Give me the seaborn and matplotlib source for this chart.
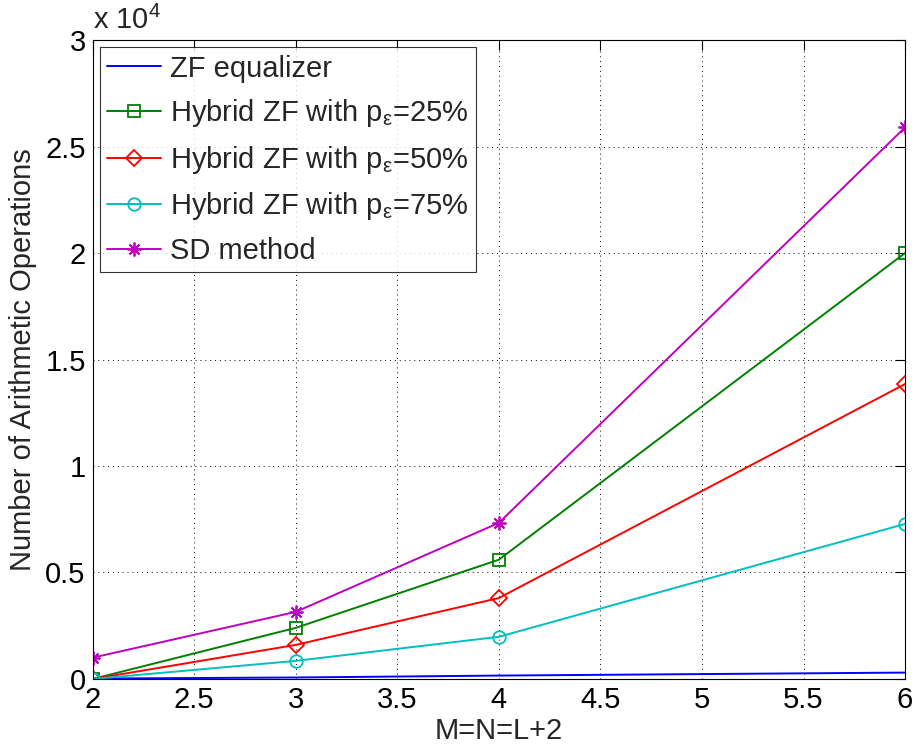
import matplotlib
matplotlib.use("Agg")
import matplotlib.pyplot as plt
import seaborn as sns
import pandas as pd
from matplotlib.ticker import FuncFormatter, MultipleLocator

x_vals = [2, 3, 4, 6]
zf = [20, 70, 160, 300]
hyb25 = [0, 2400, 5600, 20000]
hyb50 = [0, 1600, 3800, 13850]
hyb75 = [0, 850, 1980, 7280]
sd = [1000, 3150, 7330, 25900]

labels = ["ZF equalizer",
          r"Hybrid ZF with p$_{\varepsilon}$=25%",
          r"Hybrid ZF with p$_{\varepsilon}$=50%",
          r"Hybrid ZF with p$_{\varepsilon}$=75%",
          "SD method"]
series = [zf, hyb25, hyb50, hyb75, sd]
colors = [(0, 0, 1), (0, 0.5, 0), (1, 0, 0), (0, 0.75, 0.75), (0.75, 0, 0.75)]
markers = [None, "s", "D", "o", (8, 2, 0)]
msizes = [0, 8, 8, 9, 10]

sns.set_style("white")
plt.rcParams["font.family"] = ["Liberation Sans", "DejaVu Sans"]
plt.rcParams["mathtext.fontset"] = "custom"
plt.rcParams["mathtext.rm"] = "Liberation Sans"
plt.rcParams["mathtext.it"] = "Liberation Sans"
plt.rcParams["mathtext.sf"] = "Liberation Sans"

fig = plt.figure(figsize=(9.17, 7.51), dpi=100)
ax = fig.add_axes([0.101, 0.0959, 0.886, 0.8508])

for lab, vals, c, m, ms in zip(labels, series, colors, markers, msizes):
    df = pd.DataFrame({"x": x_vals, "y": vals})
    kw = dict(marker=m, markersize=ms, markerfacecolor="none",
              markeredgecolor=c, markeredgewidth=1.3) if m is not None else {}
    sns.lineplot(data=df, x="x", y="y", ax=ax, color=c, linewidth=1.4,
                 label=lab, **kw)

ax.set_xlim(2, 6)
ax.set_ylim(0, 30000)
ax.xaxis.set_major_locator(MultipleLocator(0.5))
ax.yaxis.set_major_locator(MultipleLocator(5000))
ax.yaxis.set_major_formatter(FuncFormatter(lambda v, p: "%g" % (v / 1e4)))
ax.xaxis.set_major_formatter(FuncFormatter(lambda v, p: "%g" % v))
ax.grid(True, color="black", linestyle=(0, (1, 4)), linewidth=0.7)
ax.tick_params(direction="in", top=True, right=True, length=7, width=0.8,
               labelsize=21, colors="black", pad=5)
for s in ax.spines.values():
    s.set_color("black")
    s.set_linewidth(0.8)
ax.set_xlabel("M=N=L+2", fontsize=21, labelpad=2)
ax.set_ylabel("Number of Arithmetic Operations", fontsize=21, labelpad=6)
ax.text(0.0, 1.008, r"x 10$^{4}$", transform=ax.transAxes, fontsize=21,
        ha="left", va="bottom")

leg = ax.legend(loc="upper left", fontsize=21, frameon=True, fancybox=False,
                edgecolor="black", borderaxespad=0.25, handlelength=1.85,
                labelspacing=0.5, borderpad=0.25, handletextpad=0.3)
leg.get_frame().set_linewidth(0.8)

fig.savefig("out.png", dpi=100)
